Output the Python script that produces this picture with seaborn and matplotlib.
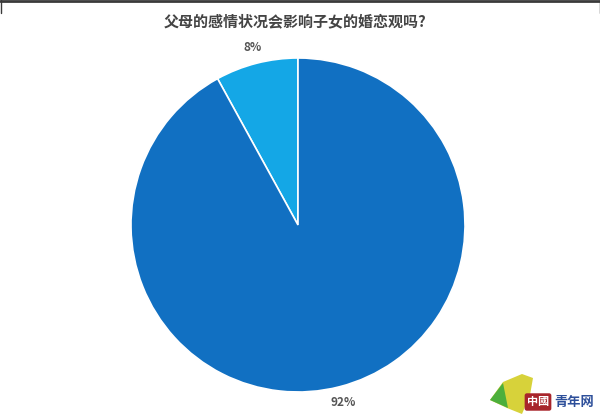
import matplotlib
matplotlib.use("Agg")
from matplotlib import pyplot as plt
from matplotlib.patches import Polygon
from matplotlib.lines import Line2D
import seaborn as sns

title = "父母的感情状况会影响子女的婚恋观吗?"
categories = ["会", "不会"]  # order as drawn, counter-clockwise from top
shares = [8, 92]
pct_labels = ["8%", "92%"]

sns.set_theme(style="white")
plt.rcParams["font.family"] = ["Noto Sans CJK SC", "DejaVu Sans"]

colors = sns.color_palette(["#14a7e6", "#1170c2"])

fig = plt.figure(figsize=(6, 4.17), dpi=100)
fig.patch.set_facecolor("white")

# pie centre ~ (298, 225) px, radius ~167 px
W, H = 600, 417
cx, cy, r = 298, 225, 167
ax = fig.add_axes([(cx - r) / W, (H - cy - r) / H, 2 * r / W, 2 * r / H])
wedges, texts = ax.pie(shares, labels=pct_labels, colors=colors, startangle=90,
                       counterclock=True, labeldistance=1.1,
                       wedgeprops=dict(edgecolor="white", linewidth=1.2),
                       textprops=dict(fontsize=8.5, color="#555555", fontweight="bold"))
for t in texts:
    t.set_horizontalalignment("center")
    t.set_verticalalignment("center")
ax.set_xlim(-1, 1)
ax.set_ylim(-1, 1)
ax.set_aspect("equal")
ax.axis("off")

fig.text(295 / W, 1 - 21 / H, title, ha="center", va="center",
         fontsize=10.8, fontweight="bold", color="#444444")

# screenshot frame line at top
fig.add_artist(Line2D([0, 1], [1 - 1 / H, 1 - 1 / H], transform=fig.transFigure,
                      color="#3a3a3a", linewidth=2))
fig.add_artist(Line2D([0.5 / W, 0.5 / W], [1, 0.97], transform=fig.transFigure,
                      color="#3a3a3a", linewidth=1))
fig.add_artist(Line2D([1 - 0.5 / W, 1 - 0.5 / W], [1, 0.97], transform=fig.transFigure,
                      color="#3a3a3a", linewidth=1))

# watermark logo (bottom right)
def px(x, y):
    return (x / W, 1 - y / H)

leaf = Polygon([px(490, 400), px(503, 382), px(522, 374), px(533, 378),
                px(530, 395), px(522, 414), px(507, 408)],
               closed=True, transform=fig.transFigure, facecolor="#d7d23a",
               edgecolor="none")
leaf2 = Polygon([px(490, 400), px(503, 383), px(508, 408)],
                closed=True, transform=fig.transFigure, facecolor="#4caf3c",
                edgecolor="none")
fig.add_artist(leaf)
fig.add_artist(leaf2)
fig.text(*px(538, 402), "中國", ha="center", va="center", fontsize=8,
         fontweight="bold", color="white",
         bbox=dict(boxstyle="round,pad=0.2", facecolor="#a8252b", edgecolor="none"))
fig.text(*px(574, 402), "青年网", ha="center", va="center", fontsize=9.5,
         fontweight="bold", color="#2d4f9a")

fig.savefig("out.png", dpi=100)
